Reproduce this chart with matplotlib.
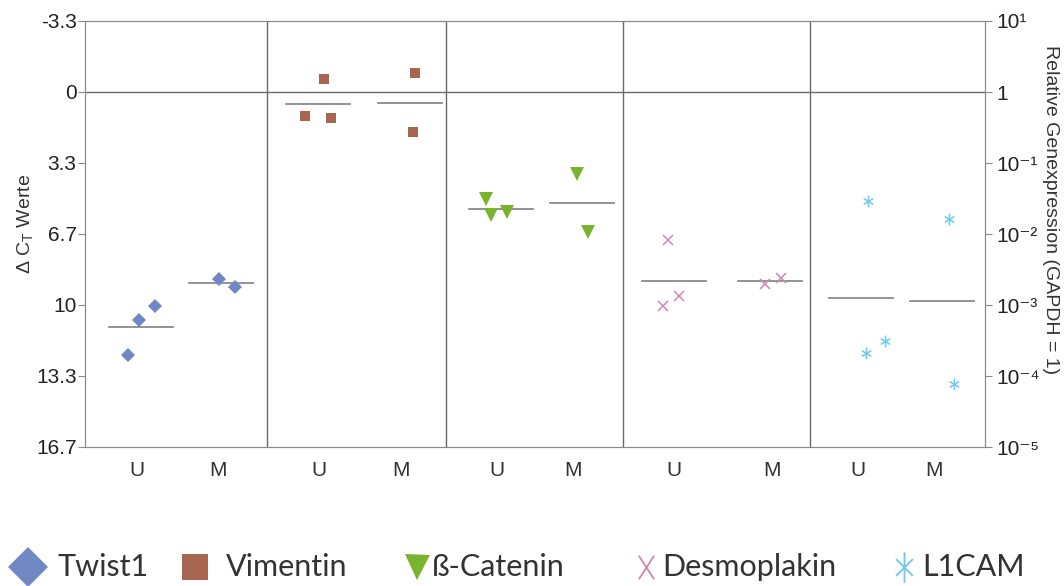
import numpy as np
import matplotlib
matplotlib.use('Agg')
import matplotlib.pyplot as plt
from matplotlib.lines import Line2D
from matplotlib.path import Path

plt.rcParams['font.family'] = ['Liberation Sans', 'DejaVu Sans']
plt.rcParams['mathtext.fontset'] = 'custom'
plt.rcParams['mathtext.rm'] = 'Liberation Sans'
plt.rcParams['mathtext.it'] = 'Liberation Sans:italic'

# delta Ct values per gene, unmetastasised (U) and metastasised (M)
genes = ['Twist1', 'Vimentin', 'ß-Catenin', 'Desmoplakin', 'L1CAM']
ct_u = [[12.35, 10.70, 10.05],
        [-0.61, 1.13, 1.22],
        [5.02, 5.77, 5.63],
        [6.95, 10.05, 9.58],
        [5.12, 12.25, 11.69]]
ct_m = [[8.78, 9.16],
        [-0.89, 1.88],
        [3.85, 6.57],
        [9.01, 8.73],
        [5.96, 13.71]]
group_labels = ['U', 'M']
left_ticks = [-3.3, 0, 3.3, 6.7, 10, 13.3, 16.7]
right_ticks = [1e1, 1, 1e-1, 1e-2, 1e-3, 1e-4, 1e-5]
right_labels = ['10¹', '1', '10⁻¹', '10⁻²', '10⁻³', '10⁻⁴', '10⁻⁵']

# asterisks / crosses shaped like the original
star = Path([(0, -1), (0, 1), (-0.8, -0.5), (0.8, 0.5), (-0.8, 0.5), (0.8, -0.5)],
            [Path.MOVETO, Path.LINETO] * 3)
tall_star = Path([(0, -1), (0, 1), (-0.55, -0.55), (0.55, 0.55), (-0.55, 0.55), (0.55, -0.55)],
                 [Path.MOVETO, Path.LINETO] * 3)
tall_x = Path([(-0.65, -1), (0.65, 1), (-0.65, 1), (0.65, -1)],
              [Path.MOVETO, Path.LINETO] * 2)

# layout (x in pixel-like units across the plot)
colors = ['#7089c5', '#a8654f', '#7ab42f', '#cc88ad', '#6cc9f2']
markers = ['D', 's', 'v', 'x', star]
leg_markers = ['D', 's', 'v', tall_x, tall_star]
msizes = [7, 7.5, 9.5, 7, 8.5]
centers_u = [56, 233, 416, 589, 776]
centers_m = [136, 325, 497, 685, 857]
tick_u = [52, 234, 412, 589, 773]
tick_m = [133, 316, 488, 687, 849]
jit_u = [[-13, -2, 14], [6, -13, 13], [-15, -10, 6], [-6, -11, 5], [7, 5, 24]]
jit_m = [[-2, 14], [5, 3], [-5, 6], [-5, 11], [7, 12]]
dividers = [182, 361, 538, 725]
half = 32

fig = plt.figure(figsize=(10.64, 5.86), dpi=100)
ax = fig.add_axes([85 / 1064, 1 - 447 / 586, 900 / 1064, 426 / 586])

for i in range(len(genes)):
    for cen, jit, vals in [(centers_u[i], jit_u[i], ct_u[i]), (centers_m[i], jit_m[i], ct_m[i])]:
        xs = [cen + j for j in jit]
        ax.plot(xs, vals, linestyle='none', marker=markers[i], color=colors[i],
                markersize=msizes[i], markeredgewidth=1.1 if i >= 3 else 0, zorder=3)
        ax.plot([cen - half, cen + half], [np.mean(vals)] * 2, color='#8a8a8a', lw=1.3, zorder=2)

for d in dividers:
    ax.axvline(d, color='#6a6a6a', lw=1)
ax.axhline(0, color='#6a6a6a', lw=1)

ax.set_xlim(0, 900)
ax.set_ylim(50 / 3, -10 / 3)
ax.set_yticks([-10 / 3, 0, 10 / 3, 20 / 3, 10, 40 / 3, 50 / 3])
ax.set_yticklabels([str(t) for t in left_ticks])
xt = []
xl = []
for u, m in zip(tick_u, tick_m):
    xt += [u, m]
    xl += group_labels
ax.set_xticks(xt)
ax.set_xticklabels(xl, fontsize=15, color='#333333')
ax.tick_params(axis='x', length=0, pad=10)
ax.tick_params(axis='y', labelsize=15, labelcolor='#222222', color='#8a8a8a', length=5, pad=1)
for s in ax.spines.values():
    s.set_color('#8a8a8a')

ax2 = ax.twinx()
ax2.set_yscale('log')
ax2.set_ylim(1e-5, 1e1)
ax2.set_yticks(right_ticks)
ax2.set_yticklabels(right_labels)
ax2.minorticks_off()
ax2.tick_params(axis='y', labelsize=15, labelcolor='#222222', color='#8a8a8a', length=5, pad=3)
for s in ax2.spines.values():
    s.set_color('#8a8a8a')

fig.text(25 / 1064, 1 - 224 / 586, r'$\Delta$ C$_\mathrm{T}$ Werte', fontsize=14, color='#333333',
         rotation=90, ha='center', va='center')
fig.text(1050 / 1064, 1 - 210 / 586, 'Relative Genexpression (GAPDH = 1)', fontsize=14,
         color='#333333', rotation=270, ha='center', va='center')

# legend row
leg_mx = [28, 195, 417, 646, 904]
leg_tx = [58, 226, 432, 662, 922]
leg_ms = [20, 19, 18, 17, 22]
ly = 1 - 567 / 586
for i, g in enumerate(genes):
    fig.add_artist(Line2D([leg_mx[i] / 1064], [ly], transform=fig.transFigure, linestyle='none',
                          marker=leg_markers[i], color=colors[i], markersize=leg_ms[i],
                          markeredgewidth=1.3 if i >= 3 else 0))
    fig.text(leg_tx[i] / 1064, ly, g, fontsize=22, family=['Lato', 'DejaVu Sans'],
             color='#333333', va='center', ha='left')

fig.savefig('out.png', dpi=100)
